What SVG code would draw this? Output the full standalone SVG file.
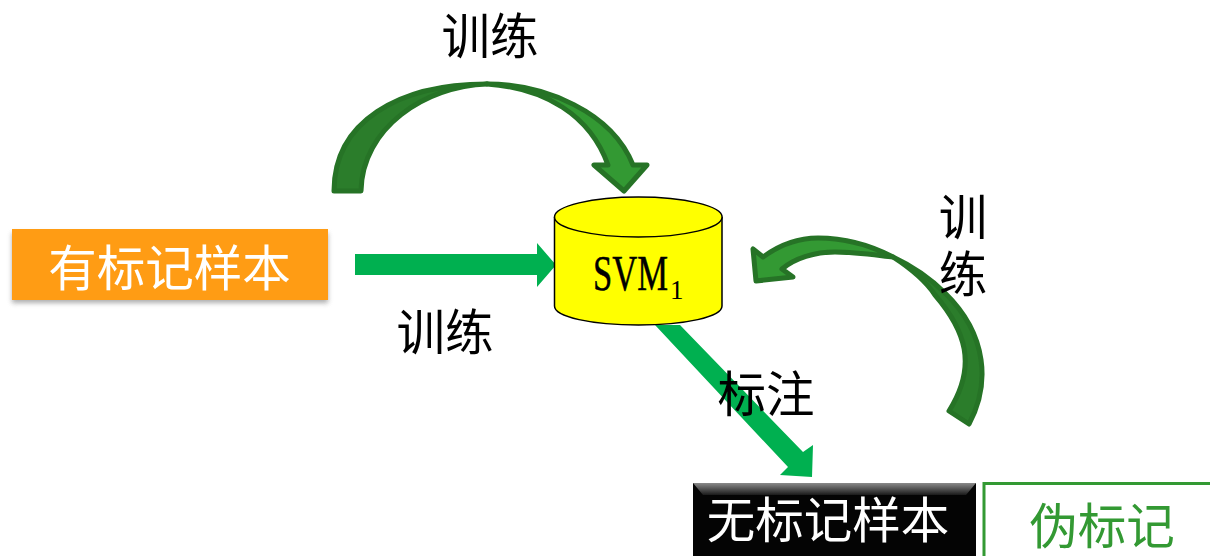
<svg xmlns="http://www.w3.org/2000/svg" width="1210" height="556" viewBox="0 0 1210 556">
<style>
.t{font-family:"Noto Sans CJK SC","Noto Sans",sans-serif;font-size:48.500px;text-anchor:middle}
.k{fill:#000}
.w{fill:#fff}
.flat{fill:#00b050}
.a1{fill:#2b7d2b;stroke:#267326;stroke-width:5;stroke-linejoin:round}
.a2{fill:#339933;stroke:#267326;stroke-width:5;stroke-linejoin:round}
.cyl{fill:#ffff00;stroke:#000;stroke-width:1.500}
</style>
<defs>
<filter id="sh" x="-5%" y="-20%" width="110%" height="150%"><feGaussianBlur stdDeviation="2.500"/></filter>
<linearGradient id="bev" x1="0" y1="0" x2="0" y2="1"><stop offset="0" stop-color="#8a8a8a"/><stop offset="1" stop-color="#1a1a1a"/></linearGradient>
</defs>
<g id="connectors">
<path class="flat" d="M355 254H537V243L556 265L537 287V275H355Z"/>
<path class="flat" d="M655 325L680 325L803 452L813 445L812 477L780 475L788 467Z"/>
<path class="a1" d="M334 191C334 122 398 84 487 84C425 86 362 128 361 191Z"/>
<path class="a2" d="M487 84C545 84 612 112 633 165L647 165L624 191L594 165L608 165C590 115 545 88 487 84Z"/>
<path class="a1" d="M949 411L969 424C990 385 988 335 945 293C930 278 910 265 893 257C910 268 925 280 935 295C965 330 978 365 949 411Z"/>
<path class="a2" d="M893 257C870 245 845 238 818 238C797 238 778 246 763 257L753 249L756 281L793 277L782 269C795 258 815 252 835 252C855 252 875 255 893 257Z"/>
</g>
<g id="labeled-sample">
<rect x="12" y="233" width="316" height="70" fill="#777" opacity=".6" filter="url(#sh)"/>
<rect x="12" y="229" width="316" height="71" fill="#ff9c14"/>
<text class="t w" x="169.500" y="286">有标记样本</text>
</g>
<g id="svm">
<path class="cyl" d="M554.500 217V306C554.500 317 592 325 638.500 325S722 317 722 306V217"/>
<ellipse class="cyl" cx="638.300" cy="217" rx="83.800" ry="20"/>
<text x="593" y="290" font-family="'Liberation Serif',serif" font-size="50" stroke="#000" stroke-width=".5" textLength="75" lengthAdjust="spacingAndGlyphs">SVM</text>
<text x="670" y="299" font-family="'Liberation Serif',serif" font-size="27">1</text>
</g>
<g id="unlabeled-sample">
<rect x="693" y="483" width="283" height="73" fill="#040404"/>
<path d="M693 483H976L966 495H703Z" fill="url(#bev)"/>
<text class="t w" x="828" y="538">无标记样本</text>
</g>
<g id="pseudo-label">
<path d="M1212 483.500H984V558" fill="#fff" stroke="#339933" stroke-width="3"/>
<text class="t" fill="#339933" x="1102" y="544">伪标记</text>
</g>
<g id="labels">
<text class="t k" x="490" y="54">训练</text>
<text class="t k" x="445" y="350">训练</text>
<text class="t k" x="766" y="412">标注</text>
<text class="t k" x="963" y="235">训</text>
<text class="t k" x="963" y="292">练</text>
</g>
</svg>
